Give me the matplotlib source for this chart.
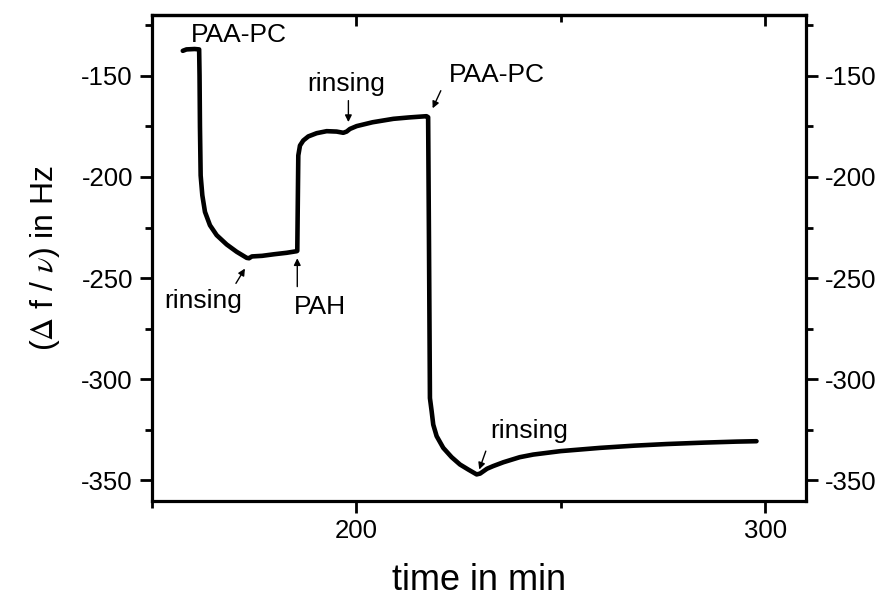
import matplotlib
matplotlib.use('Agg')
import matplotlib.pyplot as plt
from matplotlib.ticker import MultipleLocator

plt.rcParams['font.family'] = ['Liberation Sans', 'DejaVu Sans']
plt.rcParams['mathtext.fontset'] = 'stix'
plt.rcParams['axes.unicode_minus'] = False

# QCM trace: time in min, (df/nu) in Hz
time_min = [157.6, 158.5, 160.5, 161.6,
            161.7, 161.8, 161.97, 162.38, 163.03, 164.25, 165.89, 168.34, 170.78, 173.23, 173.8,
            174.5, 177.0, 180.0, 183.0, 185.5,
            185.6, 185.85, 186.26, 187.07, 188.29, 190.34, 192.79, 195.23, 196.85, 197.67,
            198.48, 200.12, 204.0, 209.1, 213.0, 217.2, 217.6,
            217.8, 218.04, 218.46, 218.85, 219.68, 221.3, 223.35, 225.38, 227.41, 229.46, 230.3,
            232.0, 233.5, 236.0, 240.0, 243.3, 250.0, 259.6, 268.0, 275.9, 285.0, 293.0, 297.9]
shift_hz = [-137.7, -137.0, -136.8, -137.0,
            -150.0, -175.0, -199.3, -209.1, -217.3, -223.9, -228.8, -233.4, -237.0, -240.0, -240.2,
            -239.3, -239.0, -238.2, -237.5, -236.7,
            -236.5, -189.4, -184.5, -182.0, -180.0, -178.4, -177.4, -177.6, -178.2, -177.6,
            -176.3, -174.9, -173.0, -171.3, -170.6, -170.0, -170.5,
            -230.0, -309.3, -315.8, -322.4, -328.1, -333.9, -338.5, -342.1, -344.6, -347.0, -346.6,
            -344.2, -342.9, -341.0, -338.5, -337.2, -335.5, -333.9, -332.8, -332.0, -331.3, -330.8, -330.6]

# annotations: label, text position, arrow tail, arrow head (None = no arrow)
notes = [
    ("PAA-PC", (171.4, -133.5), None, None),
    ("rinsing", (197.5, -157.4), (198.1, -162.3), (198.1, -172.9)),
    ("PAA-PC", (234.3, -153.0), (220.7, -157.4), (218.7, -166.1)),
    ("rinsing", (162.6, -264.9), (170.6, -252.6), (172.8, -245.3)),
    ("PAH", (191.2, -267.9), (185.6, -254.2), (185.6, -240.2)),
    ("rinsing", (242.3, -329.0), (231.7, -335.5), (230.1, -344.6)),
]

fig = plt.figure(figsize=(8.82, 5.98), dpi=100)
ax = fig.add_axes([0.172, 0.1627, 0.7418, 0.8122])

ax.plot(time_min, shift_hz, color='black', lw=3.3, solid_joinstyle='round', solid_capstyle='round')

for label, pos, tail, head in notes:
    ax.text(pos[0], pos[1], label, fontsize=19, ha='center', va='baseline')
    if tail is not None:
        ax.annotate('', xy=head, xytext=tail,
                    arrowprops=dict(arrowstyle='-|>', color='black', lw=1.0,
                                    mutation_scale=10, shrinkA=0, shrinkB=0))

ax.set_xlim(150, 310)
ax.set_ylim(-360, -120)
ax.xaxis.set_major_locator(MultipleLocator(100))
ax.xaxis.set_minor_locator(MultipleLocator(50))
ax.yaxis.set_major_locator(MultipleLocator(50))
ax.yaxis.set_minor_locator(MultipleLocator(25))

for s in ax.spines.values():
    s.set_linewidth(2.3)

ax.tick_params(axis='both', which='major', direction='out', length=8.5, width=2.0,
               labelsize=18.5, pad=5)
ax.tick_params(axis='both', which='minor', direction='out', length=5, width=2.0)
ax.tick_params(axis='y', which='both', left=True, right=True, labelleft=True, labelright=True)

top = ax.secondary_xaxis('top')
top.xaxis.set_major_locator(MultipleLocator(100))
top.xaxis.set_minor_locator(MultipleLocator(50))
top.tick_params(which='major', direction='in', length=8, width=2.0, labeltop=False)
top.tick_params(which='minor', direction='in', length=5, width=2.0)
top.spines['top'].set_linewidth(2.3)

ax.set_xlabel('time in min', fontsize=26, labelpad=14)
ax.set_ylabel(r'($\mathrm{\Delta}$ f / $\nu$) in Hz', fontsize=23, labelpad=14)

fig.savefig('out.png', dpi=100)
